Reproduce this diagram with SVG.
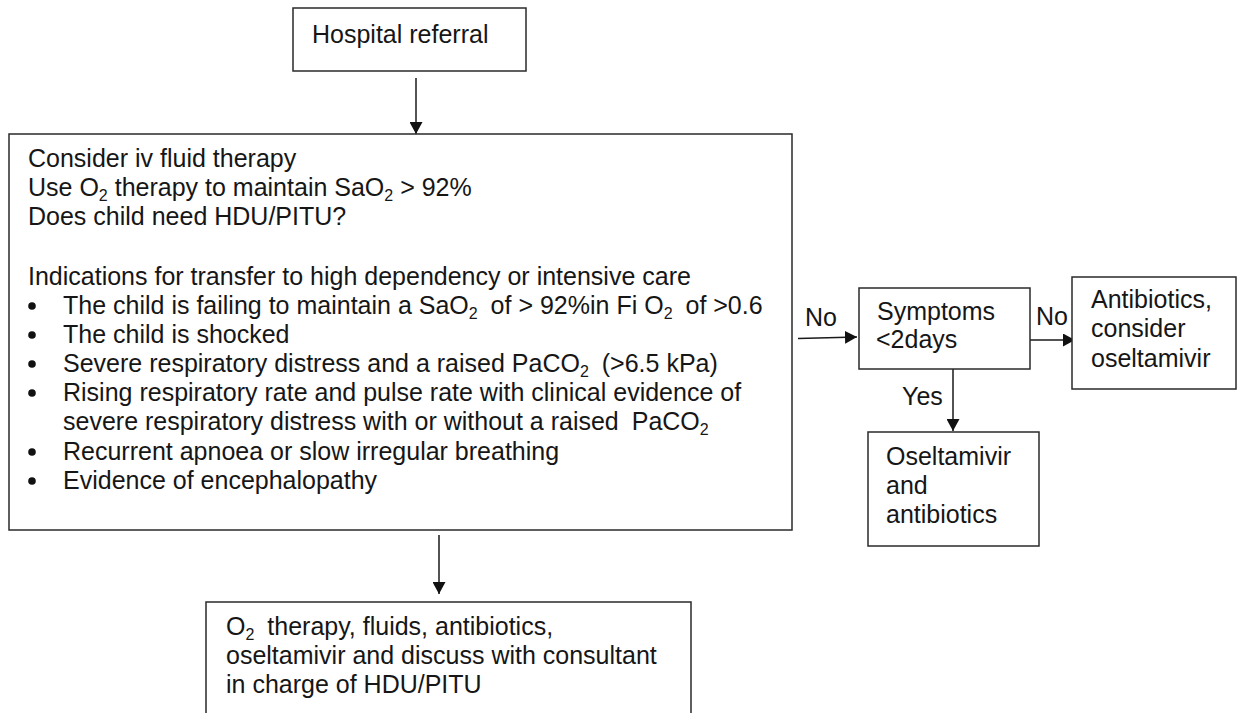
<svg xmlns="http://www.w3.org/2000/svg" width="1243" height="713" viewBox="0 0 1243 713">
<style>
text{font-family:"Liberation Sans",Arial,Helvetica,sans-serif;font-size:25px;fill:#161616}
.sub{font-size:16px}
.box{fill:#fff;stroke:#2a2a2a;stroke-width:1.5}
.con{stroke:#1a1a1a;stroke-width:1.5;fill:none}
.dot{fill:#111}
</style>
<defs>
<marker id="ah" markerUnits="userSpaceOnUse" markerWidth="13" markerHeight="13" refX="12" refY="6.5" orient="auto">
<path d="M0,0 L12,6.5 L0,13 z" fill="#111"/>
</marker>
</defs>
<rect width="1243" height="713" fill="#fff"/>
<g id="connectors">
<line class="con" x1="416" y1="78" x2="416" y2="134" marker-end="url(#ah)"/>
<line class="con" x1="439" y1="535" x2="439" y2="594" marker-end="url(#ah)"/>
<line class="con" x1="798" y1="338.5" x2="857" y2="337" marker-end="url(#ah)"/>
<line class="con" x1="1030" y1="340" x2="1075" y2="340" marker-end="url(#ah)"/>
<line class="con" x1="953" y1="369" x2="953" y2="431" marker-end="url(#ah)"/>
<text x="805" y="326">No</text>
<text x="1036" y="325">No</text>
<text x="902" y="405">Yes</text>
</g>
<g id="hospital-referral">
<rect class="box" x="293" y="8" width="233" height="63"/>
<text x="312" y="43">Hospital referral</text>
</g>
<g id="assessment">
<rect class="box" x="9" y="134" width="783" height="396"/>
<text x="28" y="167">Consider iv fluid therapy</text>
<text x="28" y="196">Use O<tspan class="sub" dy="5">2</tspan><tspan dy="-5"> therapy to maintain SaO</tspan><tspan class="sub" dy="5">2</tspan><tspan dy="-5"> &gt; 92%</tspan></text>
<text x="28" y="225">Does child need HDU/PITU?</text>
<text x="28" y="285">Indications for transfer to high dependency or intensive care</text>
<circle class="dot" cx="32" cy="306" r="3.8"/>
<text x="63" y="314">The child is failing to maintain a SaO<tspan class="sub" dy="5">2</tspan><tspan dy="-5" dx="6"> of &gt; 92%in Fi O</tspan><tspan class="sub" dy="5">2</tspan><tspan dy="-5" dx="6"> of &gt;0.6</tspan></text>
<circle class="dot" cx="32" cy="335" r="3.8"/>
<text x="63" y="343">The child is shocked</text>
<circle class="dot" cx="32" cy="364" r="3.8"/>
<text x="63" y="372">Severe respiratory distress and a raised PaCO<tspan class="sub" dy="5">2</tspan><tspan dy="-5" dx="6"> (&gt;6.5 kPa)</tspan></text>
<circle class="dot" cx="32" cy="393" r="3.8"/>
<text x="63" y="401">Rising respiratory rate and pulse rate with clinical evidence of</text>
<text x="63" y="430">severe respiratory distress with or without a raised <tspan dx="6">PaCO</tspan><tspan class="sub" dy="5">2</tspan></text>
<circle class="dot" cx="32" cy="452" r="3.8"/>
<text x="63" y="460">Recurrent apnoea or slow irregular breathing</text>
<circle class="dot" cx="32" cy="481" r="3.8"/>
<text x="63" y="489">Evidence of encephalopathy</text>
</g>
<g id="hdu-pitu">
<rect class="box" x="206" y="602" width="485" height="130"/>
<text x="226" y="635">O<tspan class="sub" dy="5">2</tspan><tspan dy="-5" dx="6"> therapy, fluids, antibiotics,</tspan></text>
<text x="226" y="664">oseltamivir and discuss with consultant</text>
<text x="226" y="693">in charge of HDU/PITU</text>
</g>
<g id="symptoms">
<rect class="box" x="859" y="288" width="171" height="81"/>
<text x="877" y="320">Symptoms</text>
<text x="876" y="348">&lt;2days</text>
</g>
<g id="antibiotics-consider">
<rect class="box" x="1072" y="277" width="164" height="112"/>
<text x="1091" y="308">Antibiotics,</text>
<text x="1091" y="337">consider</text>
<text x="1091" y="367">oseltamivir</text>
</g>
<g id="oseltamivir-antibiotics">
<rect class="box" x="868" y="432" width="171" height="114"/>
<text x="886" y="465">Oseltamivir</text>
<text x="886" y="494">and</text>
<text x="886" y="523">antibiotics</text>
</g>
</svg>
